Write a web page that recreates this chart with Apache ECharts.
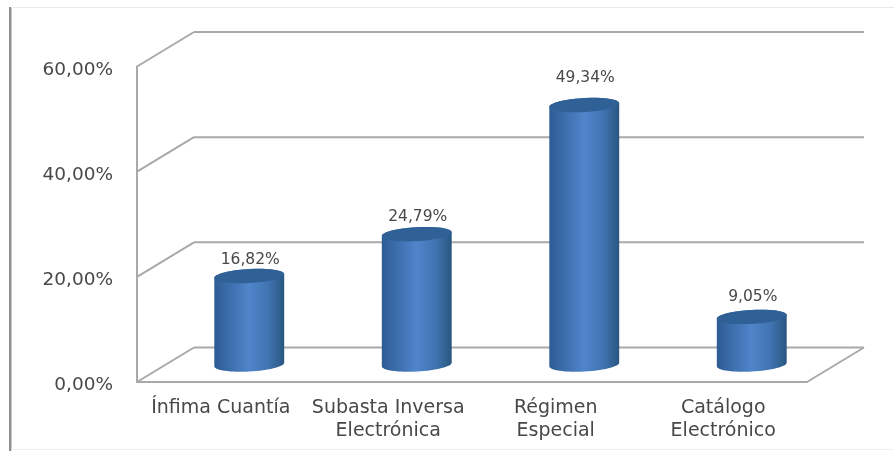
<!DOCTYPE html>
<html><head><meta charset="utf-8">
<style>html,body{margin:0;padding:0;background:#fff}#c{width:894px;height:451px}</style>
<script src="https://cdn.jsdelivr.net/npm/echarts@6/dist/echarts.min.js"></script>
</head><body><div id="c"></div>
<script>
const categories = ['Ínfima Cuantía', 'Subasta Inversa\nElectrónica', 'Régimen\nEspecial', 'Catálogo\nElectrónico'];
const values = [16.82, 24.79, 49.34, 9.05];
const valueLabels = ['16,82%', '24,79%', '49,34%', '9,05%'];
const yTicks = [0, 20, 40, 60];

const DX = 57, DY = 34.5, FONT = '"DejaVu Sans", sans-serif';
const GRID = '#a9a9a9', TEXT = '#484848';
const labelGaps = [16, 17, 27, 20];
const chart = echarts.init(document.getElementById('c'), null, {renderer: 'canvas'});

function wall(params, api) {
  const cs = params.coordSys, y = api.coord([0, api.value(1)])[1];
  const x0 = cs.x, x1 = cs.x + cs.width;
  const line = (a, b, c, d) => ({type: 'line', shape: {x1: a, y1: b, x2: c, y2: d}, style: {stroke: GRID, lineWidth: 2}});
  const kids = [line(x0 + DX, y - DY, x1 + DX, y - DY), line(x0, y, x0 + DX, y - DY)];
  if (api.value(1) === 0) kids.push(line(x1, y, x1 + DX, y - DY));
  return {type: 'group', children: kids};
}
function cylinder(params, api) {
  const v = api.value(1), i = params.dataIndex;
  const top = api.coord([i, v]), base = api.coord([i, 0]);
  const cx = top[0] + 28.5, rx = 35, ry = 7, tilt = -0.055;
  const yT = top[1] - 17.5, yB = base[1] - 17.5;
  const pt = (y, a) => {
    const px = rx * Math.cos(a), py = ry * Math.sin(a);
    return [cx + px * Math.cos(tilt) - py * Math.sin(tilt), y + px * Math.sin(tilt) + py * Math.cos(tilt)];
  };
  const pts = [];
  for (let k = 0; k <= 32; k++) pts.push(pt(yB, k / 32 * Math.PI));
  for (let k = 0; k <= 32; k++) pts.push(pt(yT, Math.PI + k / 32 * Math.PI));
  const body = new echarts.graphic.LinearGradient(0, 0, 1, 0, [
    {offset: 0, color: '#2c5c92'}, {offset: 0.18, color: '#3a6ba8'},
    {offset: 0.5, color: '#5085cb'}, {offset: 0.78, color: '#3f73b0'},
    {offset: 1, color: '#28577f'}]);
  const cap = [];
  for (let k = 0; k < 48; k++) cap.push(pt(yT, k / 48 * 2 * Math.PI));
  return {type: 'group', children: [
    {type: 'polygon', shape: {points: pts}, style: {fill: body}},
    {type: 'polygon', shape: {points: cap}, style: {fill: '#2f6096'}},
    {type: 'text', style: {text: valueLabels[i], x: cx + 1, y: yT - labelGaps[i], align: 'center', verticalAlign: 'middle',
      font: '15.5px ' + FONT, fill: TEXT}}
  ]};
}
chart.setOption({
  animation: false,
  backgroundColor: '#ffffff',
  grid: {left: 137, right: 87, top: 66.5, bottom: 69},
  xAxis: {type: 'category', data: categories, axisTick: {show: false},
    axisLine: {lineStyle: {color: GRID, width: 2}},
    axisLabel: {color: TEXT, fontFamily: FONT, fontSize: 19, lineHeight: 23, margin: 14.5, interval: 0}},
  yAxis: {type: 'value', min: 0, max: 60, interval: 20, splitLine: {show: false}, axisTick: {show: false},
    axisLine: {show: true, lineStyle: {color: GRID, width: 2}},
    axisLabel: {color: TEXT, fontFamily: FONT, fontSize: 18.5, margin: 24, verticalAlign: 'top', lineHeight: 7,
      formatter: v => v.toFixed(2).replace('.', ',') + '%'}},
  graphic: [
    {type: 'rect', silent: true, z: -1, shape: {x: 9, y: 7, width: 2.5, height: 444}, style: {fill: '#8f8f8f'}},
    {type: 'rect', silent: true, z: -1, shape: {x: 11, y: 7, width: 883, height: 1}, style: {fill: '#e9e9e9'}},
    {type: 'rect', silent: true, z: -1, shape: {x: 11, y: 449, width: 883, height: 1}, style: {fill: '#f0f0f0'}}
  ],
  series: [
    {type: 'custom', z: 1, clip: false, renderItem: wall, encode: {x: 0, y: 1}, data: yTicks.map(t => [0, t])},
    {type: 'custom', z: 5, clip: false, renderItem: cylinder, encode: {x: 0, y: 1}, data: values.map((v, i) => [i, v])}
  ]
});
</script></body></html>
